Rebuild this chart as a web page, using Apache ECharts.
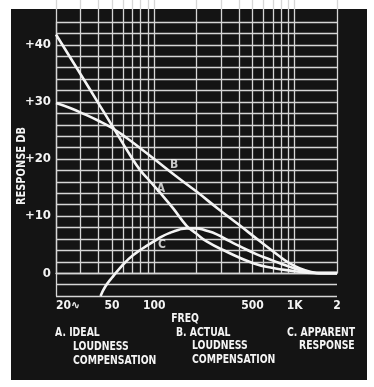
<!DOCTYPE html>
<html>
<head>
<meta charset="utf-8">
<script src="https://cdn.jsdelivr.net/npm/echarts@6/dist/echarts.min.js"></script>
<style>
html,body{margin:0;padding:0;background:#fff;}
#c{width:374px;height:387px;}
</style>
</head>
<body>
<div id="c"></div>
<script>
// ---- data (frequency in Hz, response in dB) ----
var curveA = [[20,41.8],[30,34.8],[40,29.8],[50,25.9],[67.3,20.7],[79.2,18.1],[93.3,16.1],[110,14.1],[136,11.4],[170,8.3],[198,7.0],[236,5.55],[328,3.75],[507,1.75],[700,0.9],[1000,0.35],[1223,0.08],[1500,0],[2000,0]];
var curveB = [[20,29.8],[25.2,28.93],[31.7,27.88],[39.8,26.74],[50.1,25.43],[63,23.77],[79.2,21.93],[100,20.0],[141,17.1],[200,14.29],[283,11.34],[397,8.56],[560,5.67],[788,2.88],[921,1.73],[1091,0.82],[1290,0.25],[1520,0],[2000,0]];
var curveC = [[41.5,-4],[45,-2.3],[50,-0.8],[57,0.9],[64,2.2],[71,3.2],[80,4.1],[90,4.9],[100,5.6],[113,6.4],[129,7.05],[150,7.6],[170,7.85],[200,7.85],[230,7.5],[279,6.8],[344,5.6],[408,4.7],[537,3.3],[700,2.2],[900,1.2],[1216,0.25],[1500,0.02],[2000,0]];
var curveLetters = [[111.7,14.7,'A'],[138.4,18.95,'B'],[113.5,4.9,'C']];
var xGridValues = [20,30,40,50,60,70,80,90,100,200,300,400,500,600,700,800,900,1000,2000];
var xLabelValues = [20,50,100,500,1000,2000];
var xLabelText = {20:'20\u223F',50:'50',100:'100',500:'500',1000:'1K',2000:'2'};
var yMin = -4, yMax = 44, yStep = 2;
var captions = [
  ['A. IDEAL', 55, 333], ['LOUDNESS', 73, 347], ['COMPENSATION', 73, 361],
  ['B. ACTUAL', 176, 333], ['LOUDNESS', 192, 346], ['COMPENSATION', 192, 360],
  ['C. APPARENT', 287, 333], ['RESPONSE', 299, 346]
];

var FONT = '"Liberation Sans Narrow","DejaVu Sans Condensed","Liberation Sans",sans-serif';
var WHITE = '#f4f4f4';
var GRIDC = '#d6d6d6';
var SQUEEZE = 0.86;

var chart = echarts.init(document.getElementById('c'), null, {renderer:'canvas'});

var graphics = [
  {type:'rect', z:-100, shape:{x:11,y:9,width:356,height:371}, style:{fill:'#141414'}, silent:true},
  {type:'text', x:185, y:319, scaleX:SQUEEZE, style:{text:'FREQ', fill:WHITE, font:'bold 12px '+FONT, align:'center', verticalAlign:'middle'}},
  {type:'text', x:22, y:166, rotation:Math.PI/2, scaleX:0.84, style:{text:'RESPONSE DB', fill:WHITE, font:'bold 13px '+FONT, align:'center', verticalAlign:'middle'}}
];
captions.forEach(function(c){
  graphics.push({type:'text', x:c[1], y:c[2], scaleX:SQUEEZE, style:{text:c[0], fill:WHITE, font:'bold 12px '+FONT, align:'left', verticalAlign:'middle'}});
});

function lineSeries(name, data){
  return {name:name, type:'line', data:data, smooth:0.5, symbol:'none', clip:true,
    lineStyle:{color:WHITE, width:2.6}, z:5};
}

chart.setOption({
  backgroundColor:'#ffffff',
  animation:false,
  graphic: graphics,
  grid:{left:56, top:22, right:37, bottom:91, outerBoundsMode:'none', containLabel:false},
  xAxis:{
    type:'log', logBase:10, min:20, max:2000,
    axisLine:{show:true, lineStyle:{color:GRIDC, width:1.3}},
    splitLine:{show:false},
    minorSplitLine:{show:false},
    axisTick:{show:true, inside:true, length:274, customValues:xGridValues, lineStyle:{color:GRIDC, width:1.3}},
    axisLabel:{show:true, customValues:xLabelValues, margin:4, color:WHITE, fontFamily:FONT, fontWeight:'bold', fontSize:12,
      alignMinLabel:'left',
      formatter:function(v){ return xLabelText[Math.round(v)] || ''; }}
  },
  yAxis:{
    type:'value', min:yMin, max:yMax, interval:yStep,
    axisLine:{show:true, lineStyle:{color:GRIDC, width:1.3}},
    axisTick:{show:false},
    splitLine:{show:true, lineStyle:{color:GRIDC, width:1.3}},
    axisLabel:{show:true, margin:5, color:WHITE, fontFamily:FONT, fontWeight:'bold', fontSize:13,
      formatter:function(v){ if (v % 10 !== 0) return ''; return v > 0 ? '+' + v : '' + v; }}
  },
  series:[
    lineSeries('A', curveA),
    lineSeries('B', curveB),
    lineSeries('C', curveC),
    {type:'scatter', data:curveLetters, symbolSize:0, z:6,
      label:{show:true, position:'inside', color:WHITE, fontFamily:FONT, fontWeight:'bold', fontSize:12,
        formatter:function(p){ return p.value[2]; }}}
  ]
});
</script>
</body>
</html>
